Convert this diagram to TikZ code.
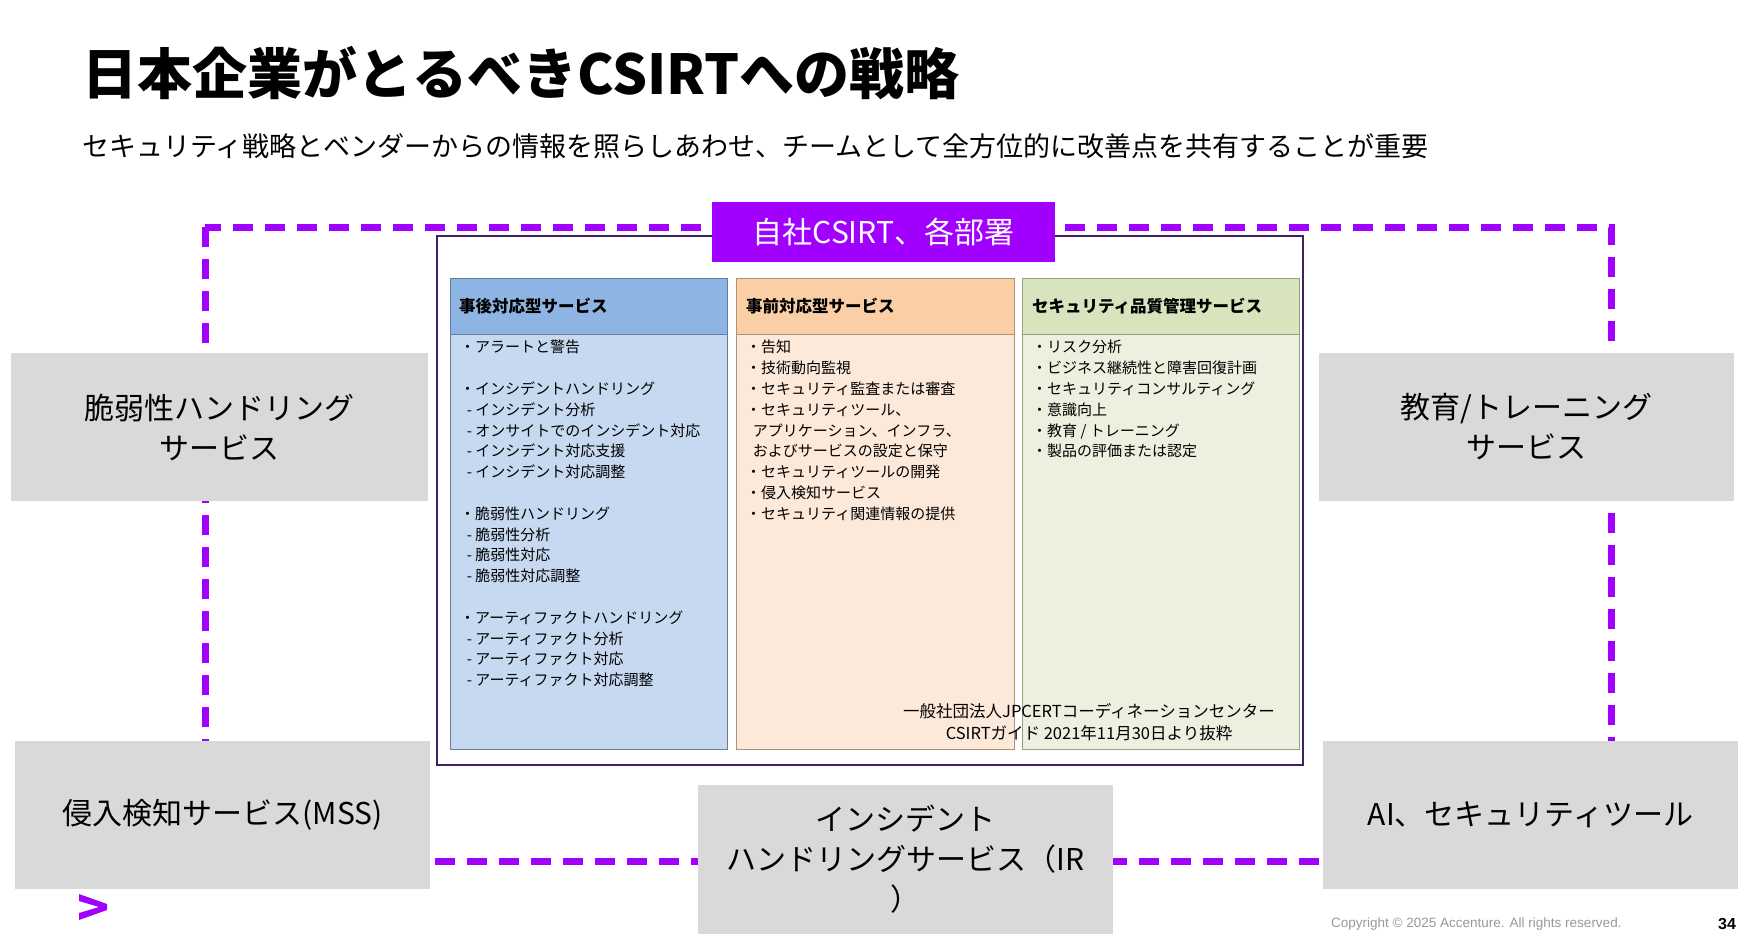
\documentclass[tikz,border=0pt]{standalone}
\usepackage{fontspec}
\setmainfont{Noto Sans CJK JP}
\newfontfamily\lat{Liberation Sans}
\definecolor{acc}{HTML}{A100FF}
\definecolor{gbox}{HTML}{D9D9D9}
\definecolor{bluehd}{HTML}{8EB4E3}
\definecolor{bluebd}{HTML}{C6D9F1}
\definecolor{orhd}{HTML}{FBCFA6}
\definecolor{orbd}{HTML}{FDE9D9}
\definecolor{grhd}{HTML}{D7E4BD}
\definecolor{grbd}{HTML}{EBF1DE}
\begin{document}
\begin{tikzpicture}[x=1pt,y=-1pt,
 gb/.style={fill=gbox,draw=none,align=center,font=\fontsize{30}{40}\selectfont,inner sep=0},
 colt/.style={anchor=north west,align=left,font=\fontsize{15}{20.8}\selectfont,inner sep=0},
 colh/.style={anchor=west,font=\bfseries\fontsize{16.5}{20}\selectfont,inner sep=0}]
\useasboundingbox[fill=white] (0,0) rectangle (1755,939);
\node[anchor=west,font=\bfseries\fontsize{55}{60}\selectfont,inner sep=0] (title) at (82,73) {日本企業がとるべきCSIRTへの戦略};
\node[anchor=west,font=\fontsize{27}{32}\selectfont,inner sep=0] (sub) at (82,146) {セキュリティ戦略とベンダーからの情報を照らしあわせ、チームとして全方位的に改善点を共有することが重要};
\draw[acc,line width=7pt,dash pattern=on 20pt off 12pt] (205,227) rectangle (1611,861);
\draw[draw={rgb,255:red,64;green,32;blue,96},line width=1.5pt,fill=white] (437,236) rectangle (1303,765);
\node[fill=acc,text=white,minimum width=343,minimum height=60,inner sep=0,font=\fontsize{30}{34}\selectfont] (csirt) at (883.5,232) {自社CSIRT、各部署};
% columns
\foreach \xa/\xb/\hc/\bc in {450/727/bluehd/bluebd,736/1014/orhd/orbd,1022/1299/grhd/grbd}{
 \fill[\bc] (\xa,334) rectangle (\xb,749);
 \fill[\hc] (\xa,278) rectangle (\xb,334);
 \draw[\hc!70!black,line width=1pt] (\xa,278) rectangle (\xb,749);
 \draw[\hc!70!black,line width=1pt] (\xa,334) -- (\xb,334);
}
\node[colh] (h1) at (459,306) {事後対応型サービス};
\node[colh] (h2) at (746,306) {事前対応型サービス};
\node[colh] (h3) at (1032,306) {セキュリティ品質管理サービス};
\node[colt] (b1) at (460,340) {・アラートと警告\\[20.8pt]・インシデントハンドリング\\\ \ - インシデント分析\\\ \ - オンサイトでのインシデント対応\\\ \ - インシデント対応支援\\\ \ - インシデント対応調整\\[20.8pt]・脆弱性ハンドリング\\\ \ - 脆弱性分析\\\ \ - 脆弱性対応\\\ \ - 脆弱性対応調整\\[20.8pt]・アーティファクトハンドリング\\\ \ - アーティファクト分析\\\ \ - アーティファクト対応\\\ \ - アーティファクト対応調整};
\node[colt] (b2) at (746,340) {・告知\\・技術動向監視\\・セキュリティ監査または審査\\・セキュリティツール、\\\ \ アプリケーション、インフラ、\\\ \ およびサービスの設定と保守\\・セキュリティツールの開発\\・侵入検知サービス\\・セキュリティ関連情報の提供};
\node[colt] (b3) at (1032,340) {・リスク分析\\・ビジネス継続性と障害回復計画\\・セキュリティコンサルティング\\・意識向上\\・教育 / トレーニング\\・製品の評価または認定};
\node[align=center,font=\fontsize{16.5}{22}\selectfont,inner sep=0] (cite) at (1089,722) {一般社団法人JPCERTコーディネーションセンター\\CSIRTガイド 2021年11月30日より抜粋};
% gray boxes
\node[gb,minimum width=417,minimum height=148] (lt) at (219.5,427) {脆弱性ハンドリング\\サービス};
\node[gb,minimum width=415,minimum height=148] (rt) at (1526.5,427) {教育/トレーニング\\サービス};
\node[gb,minimum width=415,minimum height=148] (lb) at (222.5,815) {侵入検知サービス(MSS)};
\node[gb,minimum width=415,minimum height=149] (cb) at (905.5,859.5) {インシデント\\ハンドリングサービス（IR\\）};
\node[gb,minimum width=415,minimum height=148] (rb) at (1530.5,815) {AI、セキュリティツール};
\fill[acc] (79,894) -- (107,904) -- (107,910) -- (79,920) -- (79,913) -- (99,907) -- (79,901) -- cycle;
\node[anchor=west,text=gray!80,font=\lat\fontsize{13.5}{16}\selectfont,inner sep=0] (copy) at (1331,924) {Copyright © 2025 Accenture. All rights reserved.};
\node[anchor=west,font=\lat\bfseries\fontsize{16}{18}\selectfont,inner sep=0] (pg) at (1718,924) {34};
\end{tikzpicture}
\end{document}
